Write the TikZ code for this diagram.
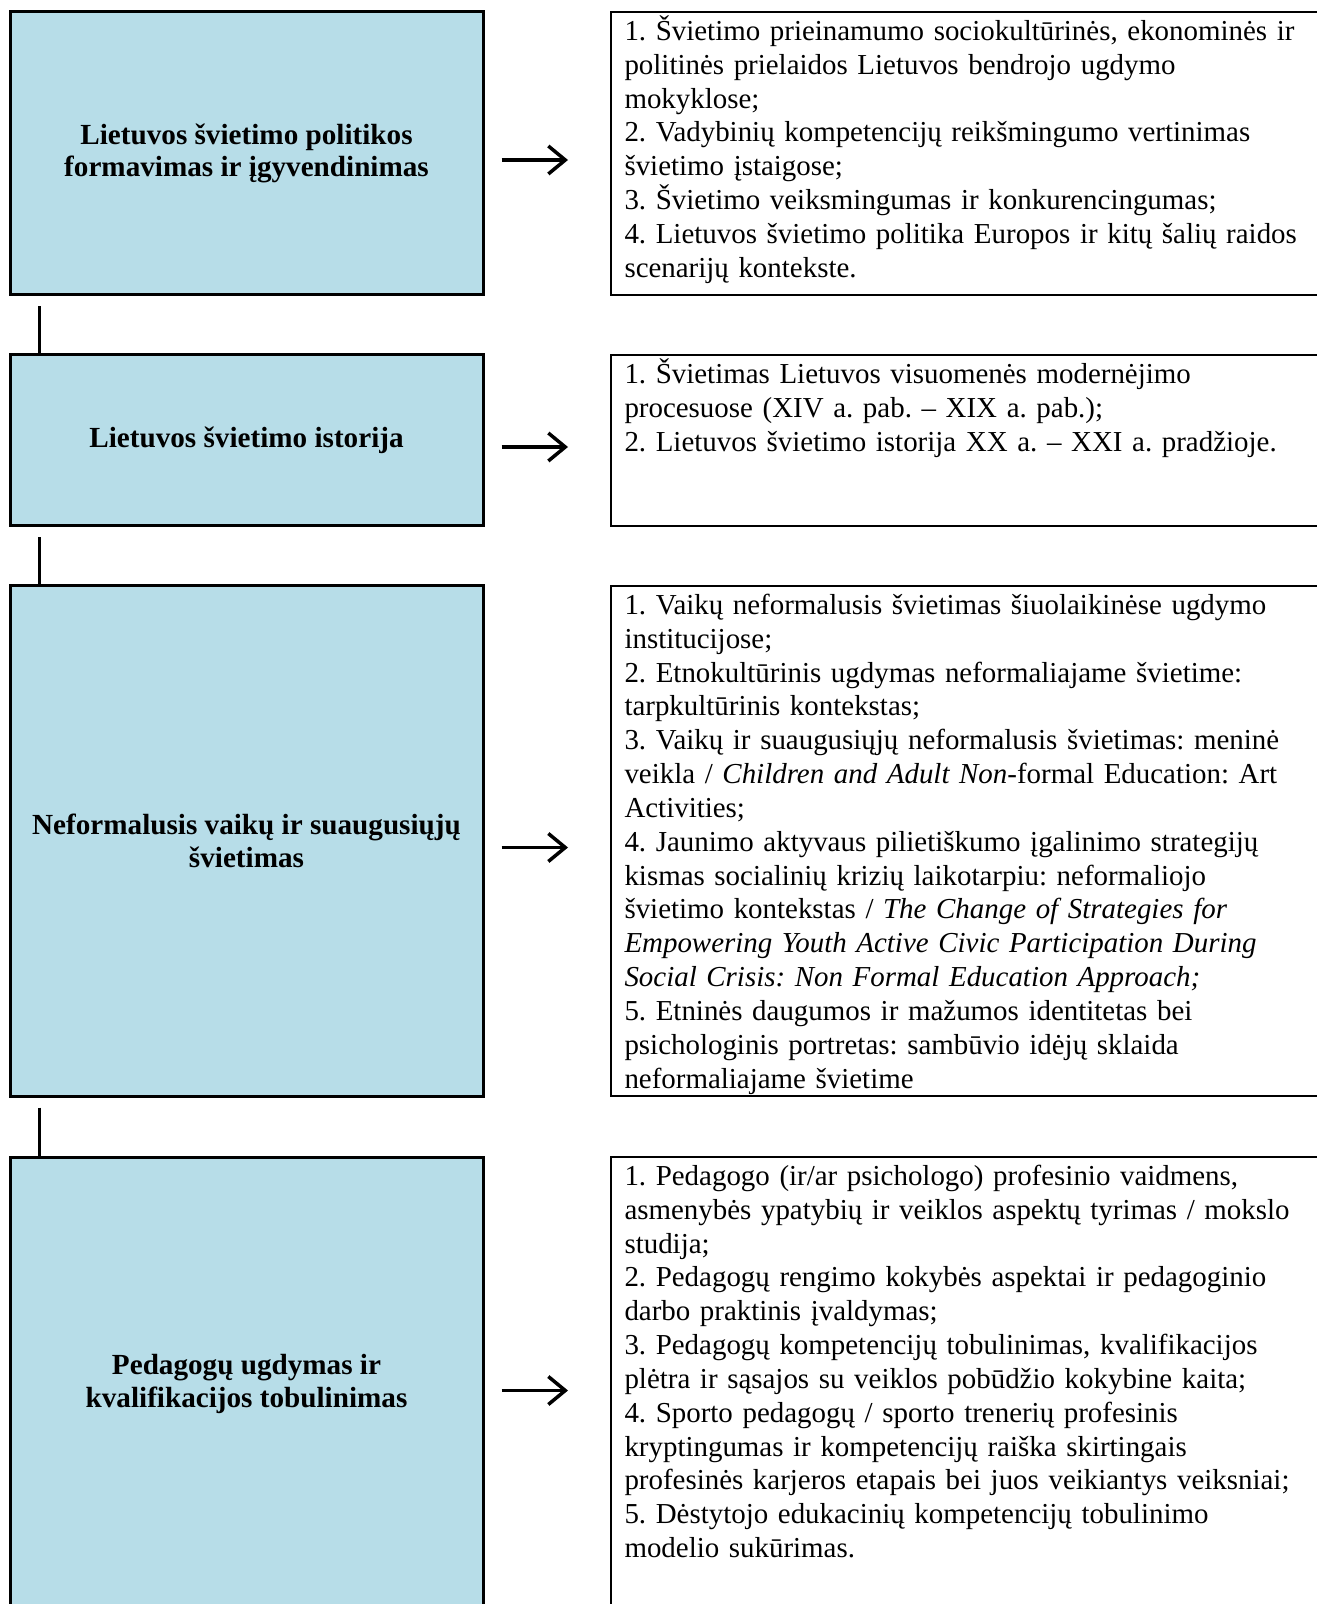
\documentclass[tikz,border=0pt]{standalone}
\usepackage{fontspec}
\setmainfont{Liberation Serif}
\usetikzlibrary{arrows.meta}
\definecolor{themeblue}{RGB}{183,221,232}
\newdimen\px
\px=0.408pt
\frenchspacing

\tikzset{
  theme/.style={draw, line width=3\px, fill=themeblue, minimum width=473\px,
    align=center, font=\fontsize{11.9}{13.4}\selectfont\bfseries, inner sep=0pt},
  topics/.style={draw, line width=2\px, minimum width=720\px, inner sep=0pt},
  topictext/.style={anchor=base west, align=left, text width=700\px,
    inner sep=0pt, font=\fontsize{11.8}{13.8}\selectfont},
  link/.style={line width=2.5\px, shorten <=10\px},
  pointer/.style={line width=3.5\px, -{Straight Barb[length=6.9pt, width=11.4pt]},
    shorten <=17\px, shorten >=42\px}
}

\begin{document}
\begin{tikzpicture}[x=0.408pt, y=-0.408pt]
  \useasboundingbox (0,0) rectangle (1316,1604);

  % Themes
  \node[theme, minimum height=283\px] (p1) at (246.5,153.5) {Lietuvos švietimo politikos\\formavimas ir įgyvendinimas};
  \node[theme, minimum height=171\px] (p2) at (246.5,440.5) {Lietuvos švietimo istorija};
  \node[theme, minimum height=510\px] (p3) at (246.5,841) {Neformalusis vaikų ir suaugusiųjų\\švietimas};
  \node[theme, minimum height=454\px] (p4) at (246.5,1384) {Pedagogų ugdymas ir\\kvalifikacijos tobulinimas};

  % Topic boxes
  \node[topics, minimum height=283\px] (s1) at (971,153.5) {};
  \node[topics, minimum height=171\px] (s2) at (971,440.5) {};
  \node[topics, minimum height=510\px] (s3) at (971,841) {};
  \node[topics, minimum height=454\px] (s4) at (971,1384) {};

  % Topic texts
  \node[topictext] (t1) at ([xshift=14\px, yshift=-29.5\px]s1.north west) {1. Švietimo prieinamumo sociokultūrinės, ekonominės ir\\
    politinės prielaidos Lietuvos bendrojo ugdymo\\
    mokyklose;\\
    2. Vadybinių kompetencijų reikšmingumo vertinimas\\
    švietimo įstaigose;\\
    3. Švietimo veiksmingumas ir konkurencingumas;\\
    4. Lietuvos švietimo politika Europos ir kitų šalių raidos\\
    scenarijų kontekste.};
  \node[topictext] (t2) at ([xshift=14\px, yshift=-29.5\px]s2.north west) {1. Švietimas Lietuvos visuomenės modernėjimo\\
    procesuose (XIV a. pab. – XIX a. pab.);\\
    2. Lietuvos švietimo istorija XX a. – XXI a. pradžioje.};
  \node[topictext] (t3) at ([xshift=14\px, yshift=-29.5\px]s3.north west) {1. Vaikų neformalusis švietimas šiuolaikinėse ugdymo\\
    institucijose;\\
    2. Etnokultūrinis ugdymas neformaliajame švietime:\\
    tarpkultūrinis kontekstas;\\
    3. Vaikų ir suaugusiųjų neformalusis švietimas: meninė\\
    veikla / \textit{Children and Adult Non}-formal Education: Art\\
    Activities;\\
    4. Jaunimo aktyvaus pilietiškumo įgalinimo strategijų\\
    kismas socialinių krizių laikotarpiu: neformaliojo\\
    švietimo kontekstas / \textit{The Change of Strategies for}\\
    \textit{Empowering Youth Active Civic Participation During}\\
    \textit{Social Crisis: Non Formal Education Approach;}\\
    5. Etninės daugumos ir mažumos identitetas bei\\
    psichologinis portretas: sambūvio idėjų sklaida\\
    neformaliajame švietime};
  \node[topictext] (t4) at ([xshift=14\px, yshift=-29.5\px]s4.north west) {1. Pedagogo (ir/ar psichologo) profesinio vaidmens,\\
    asmenybės ypatybių ir veiklos aspektų tyrimas / mokslo\\
    studija;\\
    2. Pedagogų rengimo kokybės aspektai ir pedagoginio\\
    darbo praktinis įvaldymas;\\
    3. Pedagogų kompetencijų tobulinimas, kvalifikacijos\\
    plėtra ir sąsajos su veiklos pobūdžio kokybine kaita;\\
    4. Sporto pedagogų / sporto trenerių profesinis\\
    kryptingumas ir kompetencijų raiška skirtingais\\
    profesinės karjeros etapais bei juos veikiantys veiksniai;\\
    5. Dėstytojo edukacinių kompetencijų tobulinimo\\
    modelio sukūrimas.};

  % Links between themes
  \draw[link] ([xshift=31\px]p1.south west) -- ([xshift=31\px]p2.north west);
  \draw[link] ([xshift=31\px]p2.south west) -- ([xshift=31\px]p3.north west);
  \draw[link] ([xshift=31\px]p3.south west) -- ([xshift=31\px]p4.north west);

  % Arrows to topics
  \foreach \i in {1,...,4}
    \draw[pointer] ([yshift=-6.5\px]p\i.east) -- ([yshift=-6.5\px]s\i.west);
\end{tikzpicture}
\end{document}
